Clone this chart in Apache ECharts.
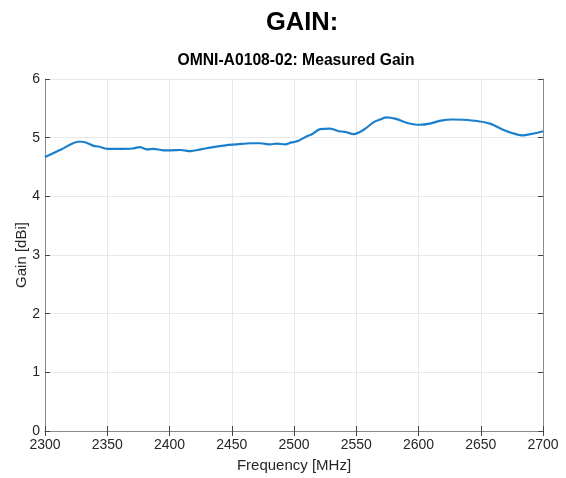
<!DOCTYPE html>
<html>
<head>
<meta charset="utf-8">
<script src="https://cdn.jsdelivr.net/npm/echarts@6/dist/echarts.min.js"></script>
<style>html,body{margin:0;padding:0;background:#fff}#c{width:566px;height:478px}</style>
</head>
<body>
<div id="c"></div>
<script>
const freq = [2300,2313,2327,2330,2339,2343,2350,2362,2370,2376,2382,2387,2395,2401,2409,2417,2425,2435,2445,2454,2465,2473,2481,2486,2493,2498,2501,2504,2510,2514,2521,2529,2536,2541,2548,2556,2564,2568,2574,2582,2591,2599,2601,2609,2618,2627,2636,2648,2658,2667,2675,2683,2691,2700];
const gain = [4.67,4.80,4.93,4.93,4.86,4.85,4.81,4.81,4.815,4.84,4.80,4.81,4.785,4.785,4.79,4.77,4.80,4.84,4.87,4.885,4.905,4.905,4.885,4.90,4.885,4.92,4.93,4.95,5.02,5.055,5.145,5.155,5.11,5.10,5.06,5.135,5.265,5.30,5.345,5.32,5.25,5.22,5.22,5.24,5.29,5.31,5.305,5.28,5.235,5.145,5.08,5.04,5.065,5.11];
const mainTitle = 'GAIN:';
const subTitle = 'OMNI-A0108-02: Measured Gain';
const xName = 'Frequency [MHz]';
const yName = 'Gain [dBi]';

const font = "'Liberation Sans', Arial, sans-serif";
const axisCol = '#8a8a8a';
const chart = echarts.init(document.getElementById('c'));
const hidden = {show:false};
chart.setOption({
  animation: false,
  backgroundColor: '#fff',
  title: [
    {text: mainTitle, left: 302, top: 10, textAlign: 'center', padding: 0,
     textStyle: {fontFamily: font, fontSize: 25.5, fontWeight: 'bold', color: '#000'}},
    {text: subTitle, left: 296, top: 53, textAlign: 'center', padding: 0,
     textStyle: {fontFamily: font, fontSize: 15.7, fontWeight: 'bold', color: '#000'}}
  ],
  grid: {left: 45, right: 23, top: 79, bottom: 47, containLabel: false},
  xAxis: [
    {type: 'value', min: 2300, max: 2700, interval: 50, position: 'bottom',
     name: xName, nameLocation: 'middle', nameGap: 27,
     nameTextStyle: {fontFamily: font, fontSize: 15, color: '#262626'},
     axisLine: {show: true, lineStyle: {color: axisCol, width: 1}},
     axisTick: {show: true, inside: true, length: 5, lineStyle: {color: '#444'}},
     axisLabel: {fontFamily: font, fontSize: 14, color: '#262626', margin: 7, formatter: v => String(v)},
     splitLine: {show: true, lineStyle: {color: '#e8e8e8', width: 1}}},
    {type: 'value', min: 2300, max: 2700, interval: 50, position: 'top',
     axisLine: {show: true, lineStyle: {color: axisCol, width: 1}},
     axisTick: {show: true, inside: true, length: 5, lineStyle: {color: '#444'}},
     axisLabel: hidden, splitLine: hidden}
  ],
  yAxis: [
    {type: 'value', min: 0, max: 6, interval: 1, position: 'left',
     name: yName, nameLocation: 'middle', nameGap: 16, nameMoveOverlap: false,
     nameTextStyle: {fontFamily: font, fontSize: 15, color: '#262626'},
     axisLine: {show: true, lineStyle: {color: axisCol, width: 1}},
     axisTick: {show: true, inside: true, length: 5, lineStyle: {color: '#444'}},
     axisLabel: {fontFamily: font, fontSize: 14, color: '#262626', margin: 5},
     splitLine: {show: true, lineStyle: {color: '#e8e8e8', width: 1}}},
    {type: 'value', min: 0, max: 6, interval: 1, position: 'right',
     axisLine: {show: true, lineStyle: {color: axisCol, width: 1}},
     axisTick: {show: true, inside: true, length: 5, lineStyle: {color: '#444'}},
     axisLabel: hidden, splitLine: hidden}
  ],
  series: [{
    type: 'line', xAxisIndex: 0, yAxisIndex: 0,
    data: freq.map((f, i) => [f, gain[i]]),
    showSymbol: false, smooth: 0.3,
    lineStyle: {color: '#1a7fcc', width: 2.2},
    itemStyle: {color: '#1a7fcc'}
  }]
});
</script>
</body>
</html>
